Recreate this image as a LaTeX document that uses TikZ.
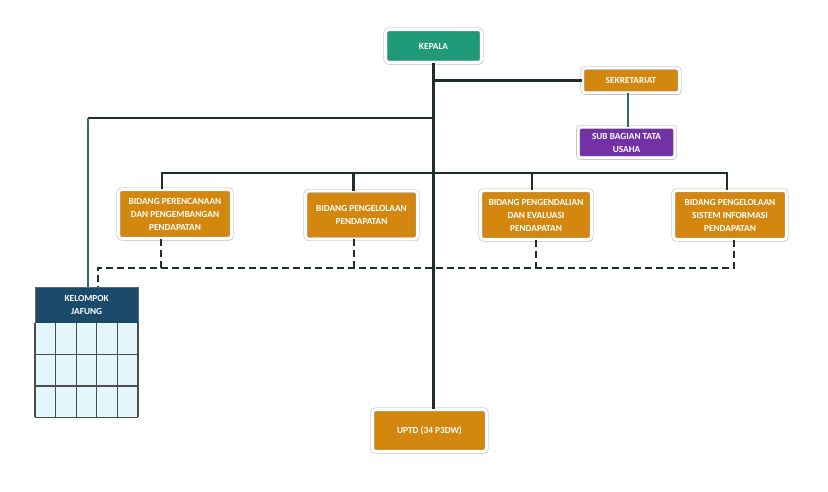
\documentclass[tikz,border=0pt]{standalone}
\usepackage{fontspec}
\setmainfont{Carlito}
\usetikzlibrary{positioning,shadows}
\definecolor{kepalagreen}{HTML}{1E9A78}
\definecolor{unitorange}{HTML}{D4870F}
\definecolor{subpurple}{HTML}{7431A6}
\definecolor{jafungblue}{HTML}{1B4A6B}
\definecolor{gridcyan}{HTML}{E3F6FB}
\definecolor{linedark}{HTML}{1F2E2C}
\definecolor{lineteal}{HTML}{2C6E64}
\tikzset{unit/.style={rectangle,rounded corners=3pt,draw=black!35,double=white,double distance=3pt,
    drop shadow={opacity=0.3,shadow xshift=1.5pt,shadow yshift=-2pt},
    fill=unitorange,text=white,font=\bfseries\fontsize{9.3}{13}\selectfont,align=center,inner sep=1pt},
  link/.style={draw=linedark,line width=2.3pt},
  tealink/.style={draw=lineteal,line width=2.3pt},
  staff/.style={draw=linedark,line width=2pt,dash pattern=on 7pt off 4pt}}

\begin{document}
\begin{tikzpicture}[x=1pt,y=-1pt]
  \useasboundingbox (0,0) rectangle (828,492);
  \node[unit,fill=kepalagreen,minimum width=96,minimum height=33] (kepala) at (433.5,46) {KEPALA};
  \node[unit,minimum width=97,minimum height=25] (sekretariat) at (631,80.5) {SEKRETARIAT};
  \node[unit,fill=subpurple,minimum width=97,minimum height=31] (subbag) at (626.5,142.5) {SUB BAGIAN TATA\\USAHA};
  \node[unit,minimum width=113,minimum height=49] (perencanaan) at (175,214) {BIDANG PERENCANAAN\\DAN PENGEMBANGAN\\PENDAPATAN};
  \node[unit,minimum width=112,minimum height=48] (pengelolaan) at (361.5,215) {BIDANG PENGELOLAAN\\PENDAPATAN};
  \node[unit,minimum width=111,minimum height=49] (pengendalian) at (536,215) {BIDANG PENGENDALIAN\\DAN EVALUASI\\PENDAPATAN};
  \node[unit,minimum width=113,minimum height=49] (sisinfo) at (730,215) {BIDANG PENGELOLAAN\\SISTEM INFORMASI\\PENDAPATAN};
  \node[unit,minimum width=114,minimum height=42] (uptd) at (429.5,430.5) {UPTD (34 P3DW)};

  % kelompok jabatan fungsional
  \node[rectangle,fill=jafungblue,draw=black!60,text=white,font=\bfseries\fontsize{9.3}{13}\selectfont,
    align=center,minimum width=103,minimum height=36,anchor=north west] (jafung) at (35,287) {KELOMPOK\\JAFUNG};
  \fill[gridcyan] (jafung.south west) rectangle ++(103,94);
  \foreach \i in {0,...,5}
    \draw[black!70,line width=1.2pt] ([xshift=\i*20.6pt]jafung.south west) -- ++(0,94);
  \foreach \j in {1,2,3}
    \draw[black!70,line width=1.2pt] ([yshift=-\j*31.33pt]jafung.south west) -- ++(103,0);

  \coordinate (bend) at (88,118);
  \coordinate (bus) at (0,173);
  \coordinate (dash) at (98,268);

  \path[link] (kepala.south) -- (kepala.south |- uptd.north)
    (kepala.south |- sekretariat.west) -- (sekretariat.west)
    (kepala.south |- bend) -- (bend);
  \path[tealink] (bend) -- (bend |- jafung.north)
    ([xshift=-3pt]sekretariat.south) -- ([xshift=-3pt]sekretariat.south |- subbag.north);
  \path[link] ([xshift=-13pt]perencanaan.north) -- ([xshift=-13pt]perencanaan.north |- bus)
    -- ([xshift=-3pt]sisinfo.north |- bus) -- ([xshift=-3pt]sisinfo.north)
    ([xshift=-8pt]pengelolaan.north |- bus) -- ([xshift=-8pt]pengelolaan.north)
    ([xshift=-4pt]pengendalian.north |- bus) -- ([xshift=-4pt]pengendalian.north);

  \path[staff] ([xshift=-14pt]perencanaan.south) -- ([xshift=-14pt]perencanaan.south |- dash)
    ([xshift=-8pt]pengelolaan.south) -- ([xshift=-8pt]pengelolaan.south |- dash)
    (pengendalian.south) -- (pengendalian.south |- dash)
    ([xshift=4pt]sisinfo.south) -- ([xshift=4pt]sisinfo.south |- dash) -- (dash) -- (dash |- jafung.north);
\end{tikzpicture}
\end{document}
